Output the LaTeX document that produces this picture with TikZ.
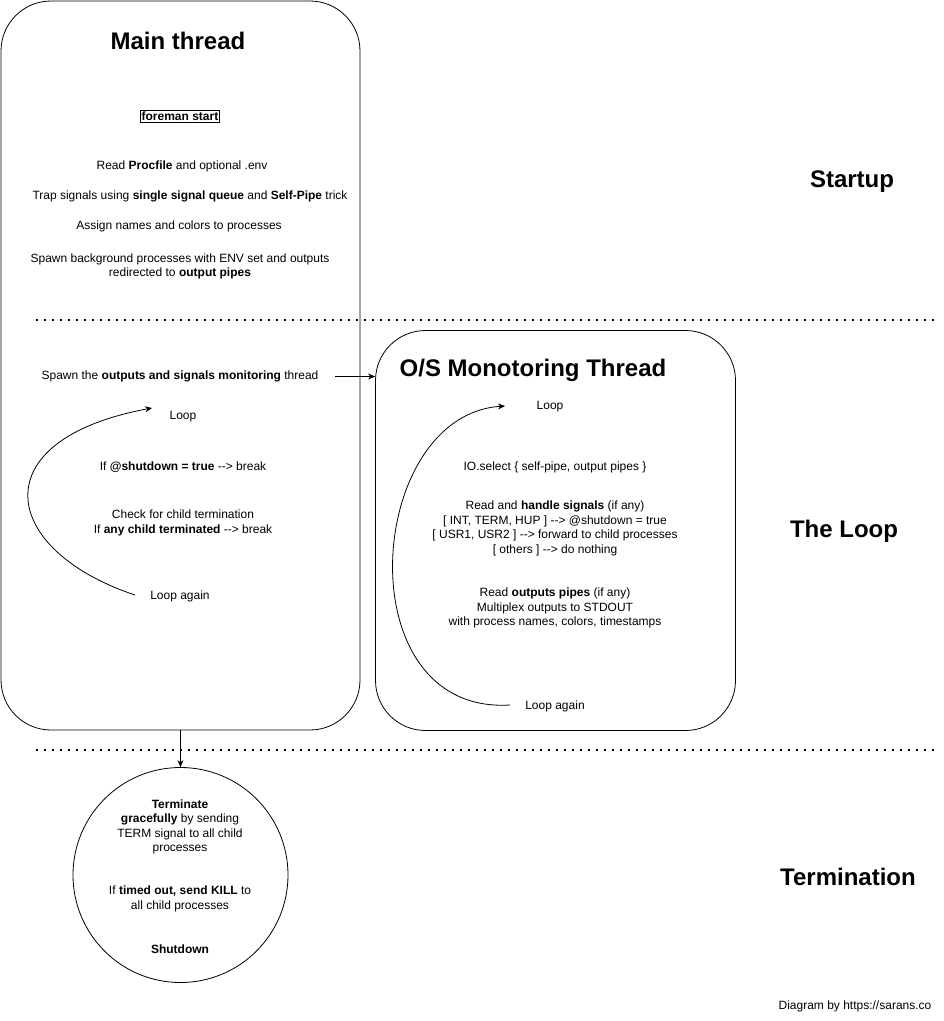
\documentclass[tikz,border=0pt]{standalone}
\usepackage{fontspec}
\setmainfont{Liberation Sans}
\usetikzlibrary{arrows.meta}
\tikzset{
  txt/.style={align=center, inner sep=0pt, yshift=-1.5pt, font=\fontsize{12}{14.5}\selectfont},
  ttl/.style={inner sep=0pt, yshift=-1.5pt, font=\fontsize{24}{28}\selectfont\bfseries},
  thread/.style={draw, line width=0.8pt, rounded corners=50pt},
  dotline/.style={line width=2pt, dash pattern=on 2pt off 6pt},
  arr/.style={line width=0.8pt, -{Stealth[length=7pt,width=6pt]}},
}
\begin{document}
\begin{tikzpicture}[x=1pt,y=-1pt]
\useasboundingbox (0,0) rectangle (944,1021);
\fill[white] (0,0) rectangle (944,1021);

% thread boxes
\node[thread, minimum width=359pt, minimum height=729pt] (main) at (180.5,365.5) {};
\node[thread, minimum width=360pt, minimum height=400pt] (os) at (555.5,530.5) {};

% titles
\node[ttl] (mtitle) at (178,39) {Main thread};
\node[ttl] (ostitle) at (533,369) {O/S Monotoring Thread};
\node[ttl] (startup) at (852,180) {Startup};
\node[ttl] (theloop) at (844,530) {The Loop};
\node[ttl] (termination) at (848,875) {Termination};

% main thread texts
\node[txt, draw, line width=0.8pt, inner sep=1.2pt, font=\fontsize{12}{14.5}\selectfont\bfseries] (fstart) at (180,115) {foreman start};
\node[txt] (readproc) at (182,165) {Read \textbf{Procfile} and optional .env};
\node[txt] (trap) at (190,195) {Trap signals using \textbf{single signal queue} and \textbf{Self-Pipe} trick};
\node[txt] (assign) at (179,225) {Assign names and colors to processes};
\node[txt] (spawnbg) at (180,265) {Spawn background processes with ENV set and outputs\\redirected to \textbf{output pipes}};
\node[txt, minimum width=310pt] (spawn) at (180,375) {Spawn the \textbf{outputs and signals monitoring} thread};
\node[txt] (loopm) at (183,415) {Loop};
\node[txt] (shut) at (183,466) {If \textbf{@shutdown = true} -{}-> break};
\node[txt] (check) at (183,521.5) {Check for child termination\\If \textbf{any child terminated} -{}-> break};
\node[txt] (againm) at (180,595) {Loop again};

% os thread texts
\node[txt] (loopo) at (550,405) {Loop};
\node[txt] (iosel) at (555,466) {IO.select \{ self-pipe, output pipes \}};
\node[txt] (handle) at (555,527) {Read and \textbf{handle signals} (if any)\\{}[ INT, TERM, HUP ] -{}-> @shutdown = true\\{}[ USR1, USR2 ] -{}-> forward to child processes\\{}[ others ] -{}-> do nothing};
\node[txt] (outp) at (555,606.5) {Read \textbf{outputs pipes} (if any)\\Multiplex outputs to STDOUT\\with process names, colors, timestamps};
\node[txt] (againo) at (555,705) {Loop again};

% termination circle
\node[draw, circle, line width=0.8pt, minimum size=215pt, inner sep=0pt] (term) at (180.5,875) {};
\node[txt] (grace) at (180,825.5) {\textbf{Terminate}\\\textbf{gracefully} by sending\\TERM signal to all child\\processes};
\node[txt] (kill) at (180,897.5) {If \textbf{timed out, send KILL} to\\all child processes};
\node[txt, font=\fontsize{12}{14.5}\selectfont\bfseries] (sdown) at (180,948) {Shutdown};

\node[txt] (credit) at (855,1005) {Diagram by https://sarans.co};

% dotted separators
\coordinate (d1a) at (36,320);
\coordinate (d1b) at (936,320);
\coordinate (d2a) at (36,750);
\coordinate (d2b) at (936,750);
\draw[dotline] (d1a) -- (d1b);
\draw[dotline] (d2a) -- (d2b);

% connectors
\draw[arr] (spawn.east) -- (spawn.east -| os.west);
\draw[arr] (main.south) -- (term.north);

% loop curves
\coordinate (la1) at (135,595);
\coordinate (la2) at (152,408);
\coordinate (ra1) at (510,705);
\coordinate (ra2) at (505,406);
\draw[arr] (la1) .. controls (0,550) and (-20,440) .. (la2);
\draw[arr] (ra1) .. controls (345,715) and (365,415) .. (ra2);
\end{tikzpicture}
\end{document}
